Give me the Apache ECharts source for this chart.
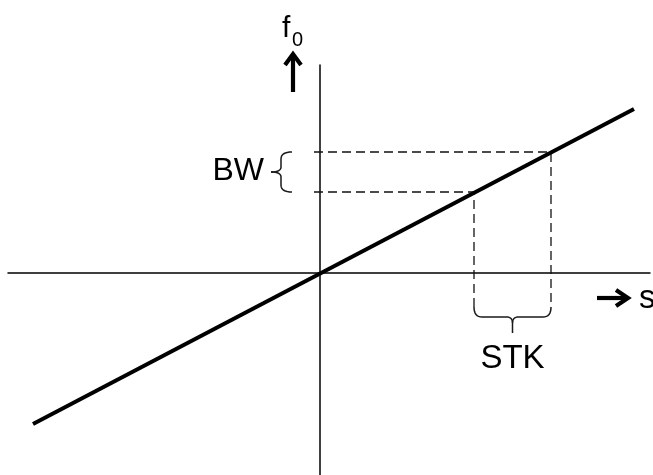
<!DOCTYPE html>
<html><head><meta charset="utf-8">
<script src="https://cdn.jsdelivr.net/npm/echarts@6/dist/echarts.min.js"></script>
<style>html,body{margin:0;padding:0;background:#fff}#c{width:653px;height:475px}</style>
</head><body><div id="c"></div>
<script>
// ---- data (in arbitrary units, s on x, f0 on y) ----
const lineS = [-28.7, 31.4];
const lineF = [-15.1, 16.4];
const stkS = [15.4, 23.1];
const bwF = [8.1, 12.1];
const xLabel = 's';
const yLabel = 'f';
const ySub = '0';
const bwLabel = 'BW';
const stkLabel = 'STK';
const guideStartS = -0.6;
const guideEndF = -3.4;

const chart = echarts.init(document.getElementById('c'), null, {renderer: 'canvas'});
const FONT = '"Liberation Sans", Arial, sans-serif';
const dash = {color: '#111', width: 1.3, type: [9, 5]};
function guide(pts) {
  return {type: 'line', data: pts, symbol: 'none', lineStyle: dash, silent: true, z: 2, animation: false};
}
const axisCommon = {
  type: 'value',
  axisLine: {onZero: true, lineStyle: {color: '#000', width: 1.5}},
  axisTick: {show: false}, axisLabel: {show: false}, splitLine: {show: false}
};
chart.setOption({
  animation: false,
  grid: {left: 8, right: 3, top: 65, bottom: 0},
  xAxis: Object.assign({min: -31.2, max: 33.0}, axisCommon),
  yAxis: Object.assign({min: -20.2, max: 20.8}, axisCommon),
  series: [
    {type: 'line', data: lineS.map((s, i) => [s, lineF[i]]), symbol: 'none',
     lineStyle: {color: '#000', width: 4}, z: 5, clip: false},
    guide([[guideStartS, bwF[0]], [stkS[0], bwF[0]], [stkS[0], guideEndF]]),
    guide([[guideStartS, bwF[1]], [stkS[1], bwF[1]], [stkS[1], guideEndF]])
  ]
});

const P = (x, y) => chart.convertToPixel({gridIndex: 0}, [x, y]);
const o = P(0, 0);
const ax = o[0], ay = o[1];
const axTop = P(0, 20.8)[1];
const axRight = P(33.0, 0)[0];
const els = [];

// build polyline points from a list of segments: ['L',x,y] or ['Q',cx,cy,x,y]
function trace(start, segs) {
  const pts = [start.slice()];
  let cur = start.slice();
  segs.forEach(s => {
    if (s[0] === 'L') { cur = [s[1], s[2]]; pts.push(cur); }
    else {
      const [_, cx, cy, x, y] = s;
      for (let t = 1; t <= 8; t++) {
        const u = t / 8;
        pts.push([(1-u)*(1-u)*cur[0] + 2*(1-u)*u*cx + u*u*x, (1-u)*(1-u)*cur[1] + 2*(1-u)*u*cy + u*u*y]);
      }
      cur = [x, y];
    }
  });
  return pts;
}
function poly(points, style) {
  return {type: 'polyline', shape: {points: points}, style: style, z: 10};
}
const braceStyle = {stroke: '#1a1a1a', lineWidth: 1.5, fill: null};

// BW brace
const yT = P(0, bwF[1])[1], yB = P(0, bwF[0])[1], yM = (yT + yB) / 2;
const bxArm = ax - 28, bxSp = ax - 39, bxTip = ax - 49;
els.push(poly(trace([bxArm, yT], [['Q', bxSp, yT, bxSp, yT + 7], ['L', bxSp, yM - 5], ['Q', bxSp, yM, bxTip, yM]]), braceStyle));
els.push(poly(trace([bxTip, yM], [['Q', bxSp, yM, bxSp, yM + 5], ['L', bxSp, yB - 7], ['Q', bxSp, yB, bxArm, yB]]), braceStyle));
els.push({type: 'text', x: bxTip - 7, y: yM - 1, z: 10, style: {text: bwLabel, font: '32px ' + FONT, fill: '#000', align: 'right', verticalAlign: 'middle'}});

// STK brace
const x1 = P(stkS[0], 0)[0], x2 = P(stkS[1], 0)[0], xm = (x1 + x2) / 2;
const yTop = P(0, guideEndF)[1], yLine = yTop + 10, yTip = yLine + 16;
els.push(poly(trace([x1, yTop], [['Q', x1, yLine, x1 + 8, yLine], ['L', xm - 6, yLine], ['Q', xm, yLine, xm, yLine + 6], ['L', xm, yTip]]), braceStyle));
els.push(poly(trace([xm, yLine + 6], [['Q', xm, yLine, xm + 6, yLine], ['L', x2 - 8, yLine], ['Q', x2, yLine, x2, yTop]]), braceStyle));
els.push({type: 'text', x: xm, y: yTip + 26, z: 10, style: {text: stkLabel, font: '33px ' + FONT, fill: '#000', align: 'center', verticalAlign: 'middle'}});

// y label f0 with up arrow
const arrowStyle = {stroke: '#000', lineWidth: 4.2, fill: null, lineJoin: 'miter'};
const uaX = ax - 27;
els.push(poly([[uaX, axTop + 27], [uaX, axTop - 10]], arrowStyle));
els.push(poly([[uaX - 8, axTop], [uaX, axTop - 11], [uaX + 8, axTop]], arrowStyle));
els.push({type: 'text', x: uaX - 11, y: axTop - 36, z: 10, style: {text: yLabel, font: '30px ' + FONT, fill: '#000', align: 'left', verticalAlign: 'middle'}});
els.push({type: 'text', x: uaX - 1, y: axTop - 25, z: 10, style: {text: ySub, font: '20px ' + FONT, fill: '#000', align: 'left', verticalAlign: 'middle'}});

// x label s with right arrow
const raY = ay + 25, raX = axRight - 24;
els.push(poly([[raX - 29, raY], [raX + 1, raY]], arrowStyle));
els.push(poly([[raX - 10, raY - 8], [raX + 2, raY], [raX - 10, raY + 8]], arrowStyle));
els.push({type: 'text', x: raX + 13, y: raY + 1, z: 10, style: {text: xLabel, font: '33px ' + FONT, fill: '#000', align: 'left', verticalAlign: 'middle'}});

chart.setOption({graphic: {elements: els}});
</script>
</body></html>
